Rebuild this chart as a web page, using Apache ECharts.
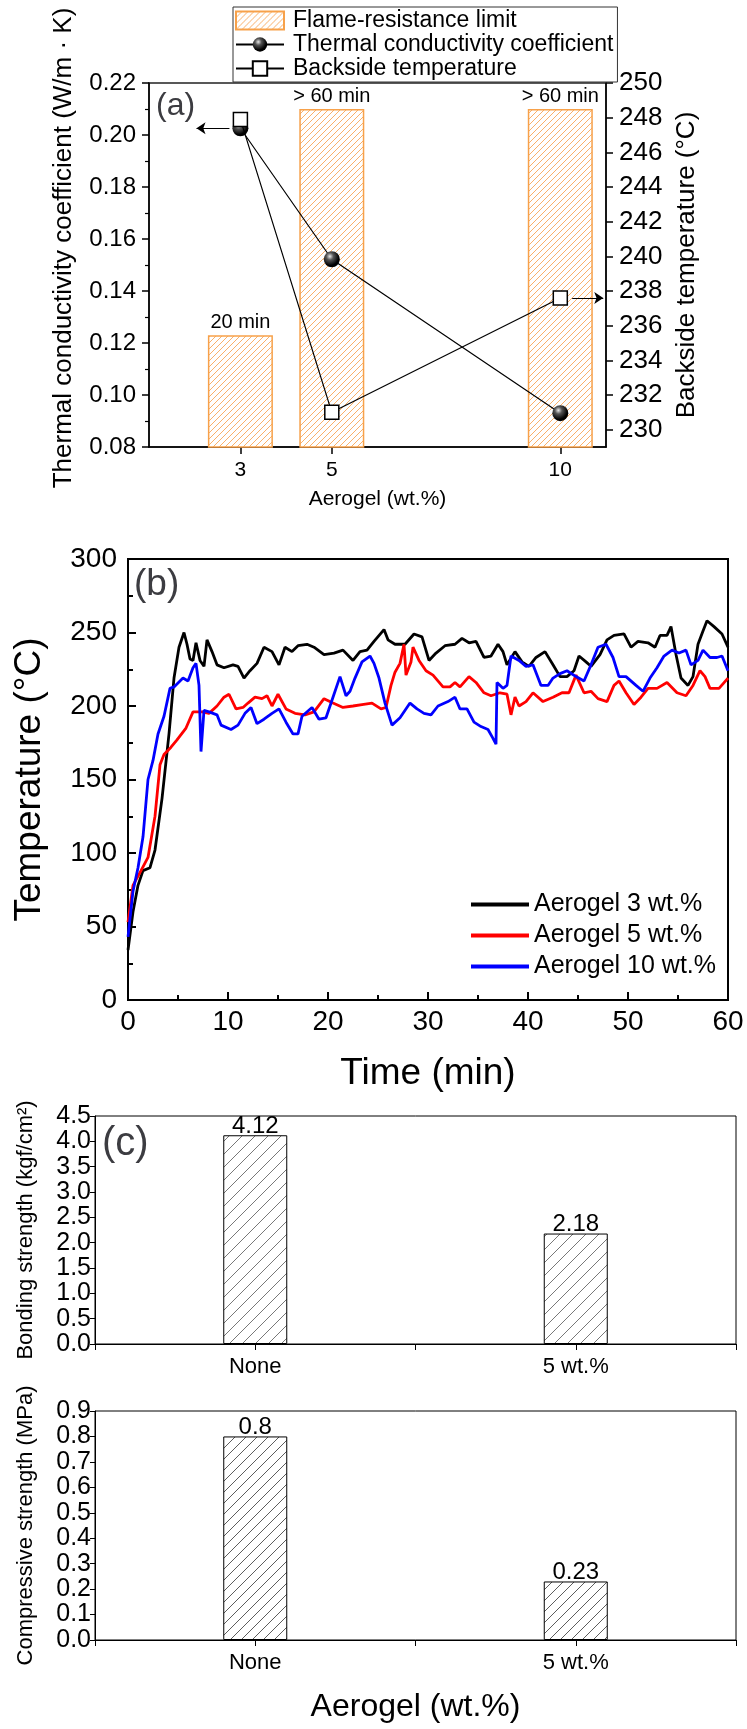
<!DOCTYPE html>
<html><head><meta charset="utf-8">
<script src="https://cdn.jsdelivr.net/npm/echarts@6/dist/echarts.min.js"></script>
<style>html,body{margin:0;padding:0;background:#fff}#c{width:747px;height:1729px}</style>
</head><body><div id="c"></div>
<script>
// ---------- (a) ----------
const aerogelLoadings = [3, 5, 10];
const conductivity = [0.2026, 0.1522, 0.0930];
const backsideTemp = [247.9, 231.0, 237.6];
const flameLimit = [0.123, 0.21, 0.21];
const flameLimitLabels = ['20 min', '> 60 min', '> 60 min'];
const xTicksA = [3, 5, 10];
const rightTicksA = [230, 232, 234, 236, 238, 240, 242, 244, 246, 248, 250];

// ---------- (b) ----------
const temp3 = [[0,34],[0.5,60],[1,78],[1.5,88],[2.2,90],[2.7,102],[3.4,137],[4.1,181],[4.6,219],[5.1,240],[5.6,250],[5.9,242],[6.2,232],[6.5,231],[6.8,243],[7.2,231],[7.6,227],[7.9,245],[8.4,237],[8.9,228],[9.6,226],[10.5,228],[11,227],[11.6,219],[12.2,224],[12.9,229],[13.6,240],[14.4,237],[15.1,228],[15.7,240],[16.4,237],[17,241],[17.9,242],[18.6,240],[19.6,235],[20.6,236],[21.5,238],[22.5,231],[23.2,237],[23.9,238],[24.6,244],[25.6,252],[26,245],[26.7,242],[27.7,242],[28.6,249],[29.4,247],[30.1,231],[30.8,236],[31.7,241],[32.7,242],[33.4,246],[34.1,243],[34.8,244],[35.6,233],[36.3,234],[37,242],[37.5,237],[37.9,228],[38.7,237],[39.4,230],[40.1,227],[40.8,233],[41.7,237],[42.5,228],[43.2,220],[43.9,220],[44.6,224],[45.1,234],[45.8,230],[46.3,227],[47.2,235],[47.9,245],[48.6,248],[49.6,249],[50.3,240],[51,244],[52,243],[52.7,240],[53.2,248],[53.9,248],[54.3,254],[54.8,235],[55.3,219],[56,214],[56.5,220],[57,242],[57.5,251],[57.9,258],[58.6,254],[59.4,249],[60,240]];
const temp5 = [[0,53],[0.5,78],[1.3,88],[2,97],[2.7,125],[3.2,160],[3.6,167],[4.3,172],[4.9,177],[5.8,185],[6.5,196],[7.4,196],[8.1,195],[8.9,200],[9.6,206],[10.1,208],[10.8,198],[11.5,199],[12,202],[12.7,206],[13.4,205],[13.9,207],[14.4,200],[15,208],[15.8,198],[16.7,195],[17.7,194],[18.6,196],[19.6,205],[20.5,202],[21.5,199],[22.5,200],[23.4,201],[24.4,202],[25.3,198],[25.8,199],[26.3,214],[26.7,223],[27.2,229],[27.6,242],[27.8,221],[28.3,230],[28.5,240],[29.1,231],[29.8,224],[30.5,221],[31.5,213],[32.2,213],[32.7,216],[33.2,213],[34.1,220],[34.8,216],[35.6,209],[36.3,207],[37.2,209],[37.9,208],[38.3,194],[38.7,206],[39.1,200],[39.8,203],[40.5,209],[41.5,203],[42.5,206],[43.4,209],[44.1,209],[44.8,221],[45.6,209],[46.3,210],[47,205],[47.9,203],[48.6,214],[49.1,217],[49.8,209],[50.6,201],[51.3,206],[52,212],[52.9,212],[53.9,216],[54.9,209],[55.8,207],[56.5,214],[57.2,224],[57.7,220],[58.2,212],[59.1,212],[60,219]];
const temp10 = [[0,43],[0.5,74],[1,90],[1.5,111],[2,150],[2.5,163],[3,181],[3.6,193],[4.2,212],[4.6,213],[5.2,217],[5.5,219],[6,217],[6.5,226],[6.8,229],[7.1,214],[7.3,169],[7.6,197],[8.1,196],[8.9,194],[9.3,187],[10.3,184],[11,187],[11.7,195],[12.3,199],[12.9,188],[13.6,191],[14.4,195],[15.1,198],[15.8,189],[16.5,181],[17,181],[17.4,193],[18.4,199],[19.1,191],[19.8,192],[20.5,206],[21.2,220],[21.8,207],[22.2,210],[22.7,219],[23.4,230],[24.2,234],[24.6,229],[25.1,219],[25.7,202],[26.4,187],[27.2,192],[28.2,202],[28.9,198],[29.6,195],[30.3,194],[31,200],[32,203],[32.7,206],[33.2,198],[33.9,198],[34.6,189],[35.3,186],[36,184],[36.5,178],[36.8,174],[36.9,216],[37.5,212],[37.9,214],[38.3,234],[39.1,231],[39.8,227],[40.5,228],[41.3,214],[42,214],[42.5,219],[43.2,222],[43.9,224],[44.8,220],[45.6,217],[46.3,228],[47,240],[47.8,242],[48.5,233],[49.1,220],[49.8,220],[50.8,214],[51.5,210],[52.2,219],[52.9,226],[53.6,234],[54.4,238],[55.1,236],[55.8,238],[56.3,228],[57,231],[57.5,238],[58.2,233],[58.9,233],[59.4,234],[60,224]];

// ---------- (c) ----------
const categoriesC = ['None', '5 wt.%'];
const bonding = [4.12, 2.18];
const compressive = [0.8, 0.23];

const FONT = "'Liberation Sans', Arial, sans-serif";

function hatch(color, s, lw) {
  const c = document.createElement('canvas');
  c.width = s; c.height = s;
  const ctx = c.getContext('2d');
  ctx.fillStyle = '#fff'; ctx.fillRect(0, 0, s, s);
  ctx.strokeStyle = color; ctx.lineWidth = lw;
  ctx.beginPath();
  for (let k = -1; k <= 1; k++) { ctx.moveTo(k * s, s); ctx.lineTo(k * s + s, 0); }
  ctx.stroke();
  return { image: c, repeat: 'repeat' };
}
const orangeHatch = hatch('#F9B06A', 6, 1);
const blackHatchTop = hatch('#555', 13, 0.8);
const blackHatchBot = hatch('#333', 11, 0.8);

const ball = { type: 'radial', x: 0.38, y: 0.32, r: 0.75,
  colorStops: [{offset: 0, color: '#e8e8e8'}, {offset: 0.3, color: '#555'}, {offset: 0.75, color: '#000'}, {offset: 1, color: '#000'}] };

const axisLine = (w) => ({ show: true, lineStyle: { color: '#000', width: w } });
const catPos = (i) => 2 * i + 1;
const arrowLine = { silent: true, symbol: ['none', 'arrow'], symbolSize: 9, label: { show: false },
  lineStyle: { color: '#000', width: 1, type: 'solid' }, emphasis: { disabled: true } };

const chart = echarts.init(document.getElementById('c'), null, { renderer: 'canvas' });
chart.setOption({
  animation: false,
  textStyle: { fontFamily: FONT, color: '#000' },
  title: [
    { text: '(a)', left: 151, top: 85, textStyle: { fontSize: 32, fontWeight: 'normal', lineHeight: 32, fontFamily: FONT } },
    { text: '(b)', left: 129, top: 561, textStyle: { fontSize: 37, fontWeight: 'normal', lineHeight: 37, fontFamily: FONT } },
    { text: '(c)', left: 97, top: 1119, textStyle: { fontSize: 40, fontWeight: 'normal', lineHeight: 40, fontFamily: FONT } }
  ],
  legend: [
    { orient: 'vertical', left: 233, top: 7, padding: [2, 4, 2, 2], itemGap: 1, itemWidth: 48, itemHeight: 18,
      borderColor: '#333', borderWidth: 1,
      textStyle: { fontSize: 23, lineHeight: 21, fontFamily: FONT, color: '#000', padding: [0, 0, 0, 4] },
      data: [{ name: 'Flame-resistance limit', icon: 'rect' }, 'Thermal conductivity coefficient', 'Backside temperature'] },
    { orient: 'vertical', left: 466, top: 887, itemGap: 6, itemWidth: 58, itemHeight: 4,
      textStyle: { fontSize: 25, lineHeight: 25, fontFamily: FONT, color: '#000' },
      data: [{ name: 'Aerogel 3 wt.%', icon: 'rect' }, { name: 'Aerogel 5 wt.%', icon: 'rect' }, { name: 'Aerogel 10 wt.%', icon: 'rect' }] }
  ],
  grid: [
    { left: 149, top: 83, width: 457, height: 364, show: true, borderColor: '#222', borderWidth: 1.5, backgroundColor: 'transparent' },
    { left: 128, top: 559, width: 600, height: 441, show: true, borderColor: '#000', borderWidth: 2, backgroundColor: 'transparent' },
    { left: 95, top: 1116, width: 641, height: 228, show: true, borderColor: '#000', borderWidth: 1, backgroundColor: 'transparent' },
    { left: 95, top: 1411, width: 641, height: 229, show: true, borderColor: '#000', borderWidth: 1, backgroundColor: 'transparent' }
  ],
  xAxis: [
    { type: 'value', gridIndex: 0, min: 1, max: 11, splitLine: { show: false },
      axisLine: axisLine(1.5), axisTick: { customValues: xTicksA, length: 7, lineStyle: { color: '#000', width: 1.5 } },
      axisLabel: { customValues: xTicksA, fontSize: 21, margin: 13, color: '#000', fontFamily: FONT },
      name: 'Aerogel (wt.%)', nameLocation: 'middle', nameGap: 42, nameTextStyle: { fontSize: 21, color: '#000', fontFamily: FONT } },
    { type: 'value', gridIndex: 1, min: 0, max: 60, interval: 10, splitLine: { show: false },
      axisLine: axisLine(2), axisTick: { inside: true, length: 8, lineStyle: { color: '#000', width: 2 } },
      minorTick: { show: true, splitNumber: 2, length: 5, lineStyle: { color: '#000', width: 2 } },
      axisLabel: { fontSize: 28, margin: 8, color: '#000', fontFamily: FONT },
      name: 'Time (min)', nameLocation: 'middle', nameGap: 55, nameTextStyle: { fontSize: 37, color: '#000', fontFamily: FONT } },
    { type: 'value', gridIndex: 2, min: 0, max: 4, interval: 1, splitLine: { show: false },
      axisLine: axisLine(1), axisTick: { length: 6, lineStyle: { color: '#000' } },
      axisLabel: { fontSize: 22, margin: 12, color: '#000', fontFamily: FONT, formatter: v => (v % 2 === 1 ? categoriesC[(v - 1) / 2] : '') } },
    { type: 'value', gridIndex: 3, min: 0, max: 4, interval: 1, splitLine: { show: false },
      axisLine: axisLine(1), axisTick: { length: 6, lineStyle: { color: '#000' } },
      axisLabel: { fontSize: 22, margin: 12, color: '#000', fontFamily: FONT, formatter: v => (v % 2 === 1 ? categoriesC[(v - 1) / 2] : '') },
      name: 'Aerogel (wt.%)', nameLocation: 'middle', nameGap: 51, nameTextStyle: { fontSize: 32, color: '#000', fontFamily: FONT } }
  ],
  yAxis: [
    { type: 'value', gridIndex: 0, min: 0.08, max: 0.22, interval: 0.02, splitLine: { show: false },
      axisLine: axisLine(1.5), axisTick: { length: 7, lineStyle: { color: '#000', width: 1.5 } },
      minorTick: { show: true, splitNumber: 2, length: 4, lineStyle: { color: '#000', width: 1.2 } },
      axisLabel: { fontSize: 24, margin: 13, color: '#000', fontFamily: FONT, formatter: v => v.toFixed(2) },
      name: 'Thermal conductivity coefficient (W/m · K)', nameLocation: 'middle', nameRotate: 90, nameGap: 72,
      nameTextStyle: { fontSize: 26, color: '#000', fontFamily: FONT, padding: [0, 0, 0, 34] } },
    { type: 'value', gridIndex: 0, position: 'right', min: 229, max: 250, splitLine: { show: false },
      axisLine: axisLine(1.5), axisTick: { customValues: rightTicksA, length: 7, lineStyle: { color: '#000', width: 1.5 } },
      axisLabel: { customValues: rightTicksA, fontSize: 26, margin: 13, color: '#000', fontFamily: FONT },
      name: 'Backside temperature (°C)', nameLocation: 'middle', nameRotate: 90, nameGap: 68,
      nameTextStyle: { fontSize: 26, color: '#000', fontFamily: FONT } },
    { type: 'value', gridIndex: 1, min: 0, max: 300, interval: 50, splitLine: { show: false },
      axisLine: axisLine(2), axisTick: { inside: true, length: 8, lineStyle: { color: '#000', width: 2 } },
      minorTick: { show: true, splitNumber: 2, length: 5, lineStyle: { color: '#000', width: 2 } },
      axisLabel: { fontSize: 28, margin: 11, color: '#000', fontFamily: FONT },
      name: 'Temperature (°C)', nameLocation: 'middle', nameRotate: 90, nameGap: 80,
      nameTextStyle: { fontSize: 37, color: '#000', fontFamily: FONT } },
    { type: 'value', gridIndex: 2, min: 0, max: 4.5, interval: 0.5, splitLine: { show: false },
      axisLine: axisLine(1), axisTick: { length: 5, lineStyle: { color: '#000' } },
      axisLabel: { fontSize: 25, margin: 4, color: '#000', fontFamily: FONT, formatter: v => v.toFixed(1) },
      name: 'Bonding strength (kgf/cm²)', nameLocation: 'middle', nameRotate: 90, nameGap: 58,
      nameTextStyle: { fontSize: 22, color: '#000', fontFamily: FONT } },
    { type: 'value', gridIndex: 3, min: 0, max: 0.9, interval: 0.1, splitLine: { show: false },
      axisLine: axisLine(1), axisTick: { length: 5, lineStyle: { color: '#000' } },
      axisLabel: { fontSize: 25, margin: 4, color: '#000', fontFamily: FONT, formatter: v => v.toFixed(1) },
      name: 'Compressive strength (MPa)', nameLocation: 'middle', nameRotate: 90, nameGap: 58,
      nameTextStyle: { fontSize: 22, color: '#000', fontFamily: FONT } }
  ],
  series: [
    { name: 'Flame-resistance limit', type: 'bar', xAxisIndex: 0, yAxisIndex: 0, barWidth: 65,
      data: aerogelLoadings.map((x, i) => [x, flameLimit[i]]),
      itemStyle: { color: orangeHatch, borderColor: '#F7A14A', borderWidth: 1.5 },
      label: { show: true, position: 'top', distance: 3, fontSize: 20, color: '#000', fontFamily: FONT,
        formatter: p => flameLimitLabels[p.dataIndex] } },
    { name: 'Thermal conductivity coefficient', type: 'line', xAxisIndex: 0, yAxisIndex: 0, z: 4,
      data: aerogelLoadings.map((x, i) => [x, conductivity[i]]),
      symbol: 'circle', symbolSize: 16, color: '#000',
      itemStyle: { color: ball, borderWidth: 0 }, lineStyle: { color: '#000', width: 1.2 },
      markLine: Object.assign({}, arrowLine, {
        data: [[{ coord: [aerogelLoadings[0] - 0.24, conductivity[0]] }, { coord: [aerogelLoadings[0] - 0.96, conductivity[0]] }]] }) },
    { name: 'Backside temperature', type: 'line', xAxisIndex: 0, yAxisIndex: 1, z: 5,
      data: aerogelLoadings.map((x, i) => [x, backsideTemp[i]]),
      symbol: 'rect', symbolSize: 14, color: '#000',
      itemStyle: { color: '#fff', borderColor: '#000', borderWidth: 1.5 }, lineStyle: { color: '#000', width: 1.2 },
      markLine: Object.assign({}, arrowLine, {
        data: [[{ coord: [aerogelLoadings[2] + 0.26, backsideTemp[2]] }, { coord: [aerogelLoadings[2] + 0.94, backsideTemp[2]] }]] }) },

    { name: 'Aerogel 3 wt.%', type: 'line', xAxisIndex: 1, yAxisIndex: 2, data: temp3, showSymbol: false, symbol: 'none',
      color: '#000', lineStyle: { width: 2.8, color: '#000' } },
    { name: 'Aerogel 5 wt.%', type: 'line', xAxisIndex: 1, yAxisIndex: 2, data: temp5, showSymbol: false, symbol: 'none',
      color: '#ff0000', lineStyle: { width: 2.8, color: '#ff0000' } },
    { name: 'Aerogel 10 wt.%', type: 'line', xAxisIndex: 1, yAxisIndex: 2, data: temp10, showSymbol: false, symbol: 'none',
      color: '#0000ff', lineStyle: { width: 2.8, color: '#0000ff' } },

    { name: 'Bonding strength', type: 'bar', xAxisIndex: 2, yAxisIndex: 3, barWidth: 64,
      data: bonding.map((v, i) => [catPos(i), v]),
      itemStyle: { color: blackHatchTop, borderColor: '#000', borderWidth: 1 },
      label: { show: true, position: 'top', distance: -3, fontSize: 24, color: '#000', fontFamily: FONT, formatter: p => String(p.value[1]) } },
    { name: 'Compressive strength', type: 'bar', xAxisIndex: 3, yAxisIndex: 4, barWidth: 64,
      data: compressive.map((v, i) => [catPos(i), v]),
      itemStyle: { color: blackHatchBot, borderColor: '#000', borderWidth: 1 },
      label: { show: true, position: 'top', distance: -3, fontSize: 24, color: '#000', fontFamily: FONT, formatter: p => String(p.value[1]) } }
  ]
});
</script>
</body></html>
